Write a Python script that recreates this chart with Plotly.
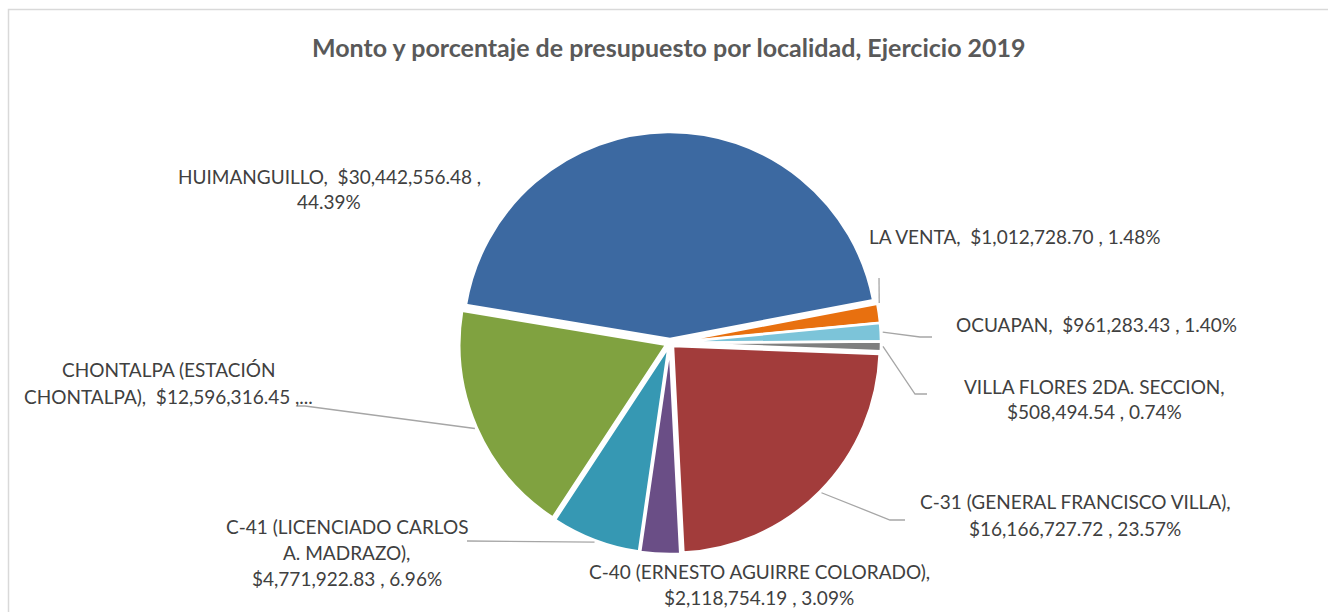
import math
import re
import plotly.graph_objects as go

# ---------------- data ----------------
localidades = [
    "HUIMANGUILLO",
    "LA VENTA",
    "OCUAPAN",
    "VILLA FLORES 2DA. SECCION",
    "C-31 (GENERAL FRANCISCO VILLA)",
    "C-40 (ERNESTO AGUIRRE COLORADO)",
    "C-41 (LICENCIADO CARLOS A. MADRAZO)",
    "CHONTALPA (ESTACIÓN CHONTALPA)",
]
montos = [30442556.48, 1012728.70, 961283.43, 508494.54,
          16166727.72, 2118754.19, 4771922.83, 12596316.45]
colores = ["#3C69A1", "#E8700F", "#7CC4D9", "#7F7F7F",
           "#A23C3B", "#6A4E86", "#3698B3", "#80A240"]
titulo = "Monto y porcentaje de presupuesto por localidad, Ejercicio 2019"

# ---------------- layout parameters ----------------
W, H = 1328, 612
CX, CY = 670, 343          # pie centre (px)
R_OUT = 211                # outer extent incl. pull (px)
PULL = 0.02
ROTATION = 279.4

# per label: wrap width (chars), max lines, centre x, first line y, line step,
# leader: anchor fraction along slice, list of extra points (px)
label_cfg = [
    dict(w=32, maxl=3, x=329, y=176, dy=25.5, leader=None),
    dict(w=40, maxl=3, x=1015, y=237, dy=26, leader=(0.0, [(879, 278)])),
    dict(w=40, maxl=3, x=1096, y=324, dy=26, leader=(0.5, [(920, 337), (932, 337)])),
    dict(w=27, maxl=3, x=1094, y=386, dy=25.7, leader=(0.5, [(915, 394), (927, 394)])),
    dict(w=32, maxl=3, x=1075, y=501, dy=27, leader=(0.5, [(890, 520), (905, 520)])),
    dict(w=33, maxl=3, x=759, y=571, dy=26.5, leader=None),
    dict(w=24, maxl=3, x=347, y=526, dy=26, leader=(0.5, [(467, 541)])),
    dict(w=30, maxl=2, x=168, y=369, dy=27.5, leader=(0.5, [(305, 406), (297, 406)])),
]

FONT = "Lato"
LABEL_SIZE = 19
TITLE_SIZE = 25


def px_x(x):
    return x / W


def px_y(y):
    return 1 - y / H


def wrap(s, width, maxl):
    parts = re.split(r"( +)", s)
    lines, cur = [], ""
    for i in range(0, len(parts), 2):
        w = parts[i]
        sep = parts[i - 1] if i > 0 else ""
        if cur and len(cur + sep + w) > width:
            lines.append(cur)
            cur = w
        else:
            cur = cur + sep + w if cur else w
    lines.append(cur)
    if len(lines) > maxl:
        lines = lines[:maxl]
        lines[-1] = lines[-1] + "..."
    return lines


total = sum(montos)
pcts = [m / total * 100 for m in montos]

fig = go.Figure()
fig.add_trace(go.Pie(
    labels=localidades,
    values=montos,
    sort=False,
    direction="clockwise",
    rotation=ROTATION,
    pull=[PULL] * len(montos),
    marker=dict(colors=colores, line=dict(color="white", width=2.5)),
    textinfo="none",
    hoverinfo="label+value+percent",
    domain=dict(x=[px_x(CX - R_OUT), px_x(CX + R_OUT)],
                y=[px_y(CY + R_OUT), px_y(CY - R_OUT)]),
    showlegend=False,
))

annotations = []
shapes = []

# title
annotations.append(dict(
    text="<b>" + titulo + "</b>", x=px_x(669), y=px_y(47), xref="paper", yref="paper",
    showarrow=False, xanchor="center", yanchor="middle",
    font=dict(family=FONT, size=TITLE_SIZE, color="#595959"),
))

# labels and leader lines
cum = 0.0
for name, m, p, cfg in zip(localidades, montos, pcts, label_cfg):
    start = ROTATION + cum / total * 360
    span = m / total * 360
    cum += m
    full = f"{name},  ${m:,.2f} , {p:.2f}%"
    for k, line in enumerate(wrap(full, cfg["w"], cfg["maxl"])):
        annotations.append(dict(
            text=line, x=px_x(cfg["x"]), y=px_y(cfg["y"] + k * cfg["dy"]),
            xref="paper", yref="paper", showarrow=False,
            xanchor="center", yanchor="middle",
            font=dict(family=FONT, size=LABEL_SIZE, color="#404040"),
        ))
    if cfg["leader"]:
        frac, pts = cfg["leader"]
        ang = math.radians(start + frac * span)
        sx = CX + (R_OUT + 2) * math.sin(ang)
        sy = CY - (R_OUT + 2) * math.cos(ang)
        path = f"M {px_x(sx)},{px_y(sy)}"
        for (x, y) in pts:
            path += f" L {px_x(x)},{px_y(y)}"
        shapes.append(dict(type="path", path=path, xref="paper", yref="paper",
                           line=dict(color="#A6A6A6", width=1.3)))

# chart border (right and bottom edges fall outside the view)
shapes.append(dict(type="rect", xref="paper", yref="paper",
                   x0=px_x(8.5), x1=px_x(1340), y0=px_y(630), y1=px_y(9.5),
                   line=dict(color="#D9D9D9", width=1.5)))

fig.update_layout(
    width=W, height=H,
    margin=dict(l=0, r=0, t=0, b=0),
    paper_bgcolor="white",
    plot_bgcolor="white",
    annotations=annotations,
    shapes=shapes,
    showlegend=False,
)

fig.write_html("out.html", config={"displayModeBar": False},
               post_script="document.body.style.margin='0px';")
